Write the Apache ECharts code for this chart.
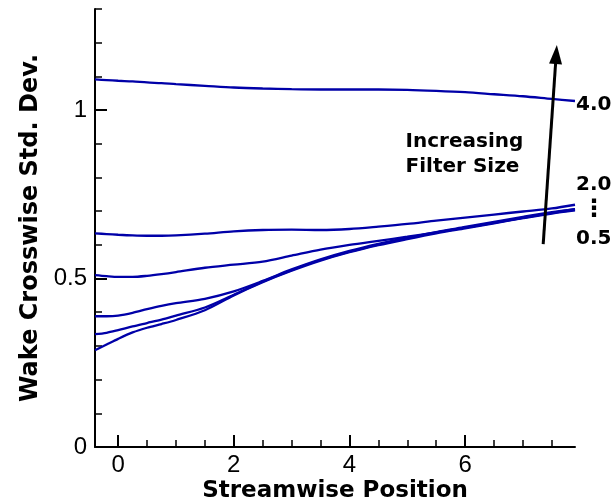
<!DOCTYPE html>
<html>
<head>
<meta charset="utf-8">
<script src="https://cdn.jsdelivr.net/npm/echarts@6/dist/echarts.min.js"></script>
<style>
  html, body { margin: 0; padding: 0; background: #fff; }
  #main { width: 614px; height: 503px; }
</style>
</head>
<body>
<div id="main"></div>
<script>
var chart = echarts.init(document.getElementById('main'));

// streamwise positions shared by all curves
var xs = [-0.4, -0.2, 0, 0.25, 0.5, 0.75, 1, 1.5, 2, 2.5, 3, 3.5, 4, 4.5, 5, 5.5, 6, 6.5, 7, 7.5, 7.9];

// wake crosswise std. dev. per filter size
var f40  = [1.091, 1.089, 1.087, 1.085, 1.082, 1.080, 1.077, 1.072, 1.067, 1.064, 1.062, 1.061, 1.061, 1.061, 1.060, 1.057, 1.053, 1.047, 1.041, 1.033, 1.027];
var f20  = [0.634, 0.632, 0.630, 0.628, 0.627, 0.627, 0.628, 0.633, 0.640, 0.644, 0.645, 0.644, 0.647, 0.654, 0.662, 0.672, 0.681, 0.690, 0.699, 0.708, 0.719];
var f15  = [0.510, 0.507, 0.505, 0.505, 0.508, 0.513, 0.519, 0.532, 0.541, 0.550, 0.568, 0.586, 0.600, 0.612, 0.624, 0.637, 0.651, 0.665, 0.680, 0.695, 0.706];
var f10  = [0.388, 0.388, 0.390, 0.398, 0.409, 0.419, 0.427, 0.440, 0.462, 0.493, 0.527, 0.557, 0.582, 0.603, 0.621, 0.638, 0.653, 0.668, 0.683, 0.697, 0.706];
var f075 = [0.335, 0.339, 0.347, 0.358, 0.368, 0.378, 0.390, 0.414, 0.452, 0.491, 0.525, 0.555, 0.580, 0.601, 0.619, 0.636, 0.651, 0.666, 0.681, 0.695, 0.704];
var f05  = [0.287, 0.304, 0.321, 0.340, 0.354, 0.365, 0.377, 0.406, 0.450, 0.489, 0.523, 0.553, 0.578, 0.599, 0.617, 0.634, 0.649, 0.664, 0.679, 0.693, 0.702];

// axis ticks
var xMajor = [0, 2, 4, 6];
var xMinor = [0.5, 1, 1.5, 2.5, 3, 3.5, 4.5, 5, 5.5, 6.5, 7, 7.5];
var yMajor = [0, 0.5, 1];
var yMinor = [0.1, 0.2, 0.3, 0.4, 0.6, 0.7, 0.8, 0.9, 1.1, 1.2, 1.3];

// annotations (data coords)
var arrowLine = [[7.35, 0.602], [7.575, 1.165]];
var noteAt = [4.97, 0.944];
var noteText = 'Increasing\nFilter Size';

var blue = '#0000a8';
var bold = { color: '#000', fontFamily: 'DejaVu Sans', fontWeight: 'bold', fontSize: 20 };
var tickFont = { color: '#000', fontFamily: 'Liberation Sans, Arial, sans-serif', fontSize: 24 };

function pairs(ys) {
    return xs.map(function (x, i) { return [x, ys[i]]; });
}

function curve(name, ys, label, dx, dy, size) {
    var s = {
        name: name,
        type: 'line',
        xAxisIndex: 0,
        yAxisIndex: 0,
        data: pairs(ys),
        smooth: 0.3,
        showSymbol: false,
        symbol: 'none',
        lineStyle: { color: blue, width: 2.3 },
        z: 3
    };
    if (label) {
        s.endLabel = Object.assign({}, bold, {
            show: true,
            formatter: label,
            distance: 1,
            offset: [dx || 0, dy || 0]
        });
        if (size) s.endLabel.fontSize = size;
    }
    return s;
}

var f40Series = curve('4.0', f40, '4.0', 0, 4);
f40Series.markLine = {
    silent: true,
    animation: false,
    symbol: ['none', 'triangle'],
    symbolSize: [13, 19],
    label: { show: false },
    lineStyle: { color: '#000', width: 3, type: 'solid' },
    data: [[{ coord: arrowLine[0] }, { coord: arrowLine[1] }]]
};

var option = {
    animation: false,
    grid: { left: 95, top: 9, right: 39, bottom: 56, outerBoundsMode: 'none', containLabel: false },
    xAxis: [{
        type: 'value',
        min: -0.4,
        max: 7.9,
        position: 'bottom',
        name: 'Streamwise Position',
        nameLocation: 'middle',
        nameGap: 33,
        nameMoveOverlap: false,
        nameTextStyle: { color: '#000', fontFamily: 'DejaVu Sans', fontWeight: 'bold', fontSize: 23 },
        axisLine: { onZero: false, lineStyle: { color: '#000', width: 2 } },
        axisTick: { inside: true, length: 12, customValues: xMajor, lineStyle: { color: '#000', width: 2 } },
        axisLabel: Object.assign({ customValues: xMajor, margin: 6 }, tickFont),
        splitLine: { show: false }
    }, {
        type: 'value',
        min: -0.4,
        max: 7.9,
        position: 'bottom',
        axisLine: { show: false, onZero: false },
        axisTick: { inside: true, length: 7, customValues: xMinor, lineStyle: { color: '#000', width: 1.5 } },
        axisLabel: { show: false },
        splitLine: { show: false }
    }],
    yAxis: [{
        type: 'value',
        min: 0,
        max: 1.3,
        position: 'left',
        name: 'Wake Crosswise Std. Dev.',
        nameLocation: 'middle',
        nameGap: 52,
        nameMoveOverlap: false,
        nameTextStyle: { color: '#000', fontFamily: 'DejaVu Sans', fontWeight: 'bold', fontSize: 24 },
        axisLine: { show: true, onZero: false, lineStyle: { color: '#000', width: 2 } },
        axisTick: { show: true, inside: true, length: 12, customValues: yMajor, lineStyle: { color: '#000', width: 2 } },
        axisLabel: Object.assign({ customValues: yMajor, margin: 8 }, tickFont),
        splitLine: { show: false }
    }, {
        type: 'value',
        min: 0,
        max: 1.3,
        position: 'left',
        axisLine: { show: false, onZero: false },
        axisTick: { show: true, inside: true, length: 7, customValues: yMinor, lineStyle: { color: '#000', width: 1.5 } },
        axisLabel: { show: false },
        splitLine: { show: false }
    }],
    series: [
        f40Series,
        curve('2.0', f20, '2.0', 0, -20),
        curve('1.5', f15),
        curve('1.0', f10, '\u22ee', 6, 1, 24),
        curve('0.75', f075),
        curve('0.5', f05, '0.5', 0, 28)
    ]
};

chart.setOption(option);

var p = chart.convertToPixel({ seriesIndex: 0 }, noteAt);
chart.setOption({
    graphic: [{
        type: 'text',
        x: p[0],
        y: p[1],
        style: {
            text: noteText,
            fill: '#000',
            font: 'bold 20px "DejaVu Sans"',
            lineHeight: 25,
            align: 'left',
            verticalAlign: 'top'
        }
    }]
});

window.onresize = chart.resize;
</script>
</body>
</html>
